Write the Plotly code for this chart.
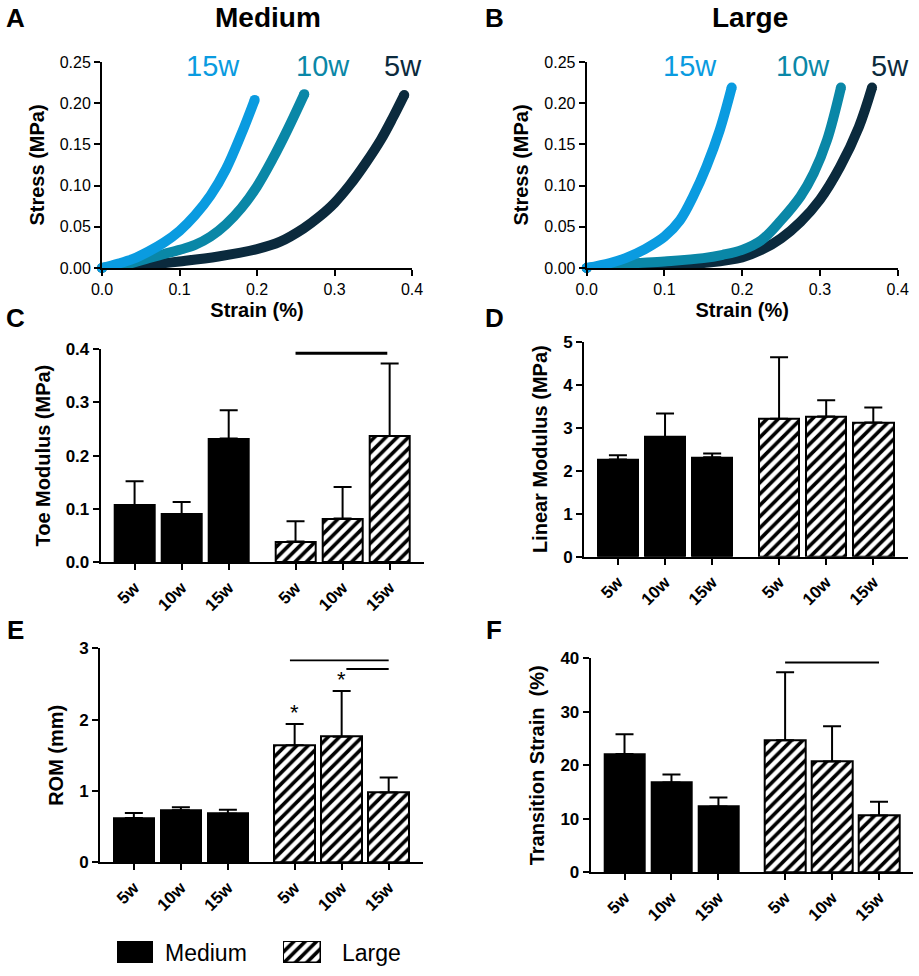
import plotly.graph_objects as go

# ---------------- data ----------------
# Panel A (Medium) stress-strain curves: strain, stress (MPa)
med_5w_strain = [0.0, 0.05, 0.10, 0.15, 0.20, 0.23, 0.26, 0.28, 0.30, 0.32, 0.34, 0.36, 0.375, 0.39]
med_5w_stress = [0.0, 0.003, 0.008, 0.014, 0.023, 0.032, 0.048, 0.062, 0.079, 0.101, 0.127, 0.156, 0.182, 0.21]
med_10w_strain = [0.0, 0.03, 0.06, 0.08, 0.10, 0.12, 0.14, 0.16, 0.18, 0.20, 0.22, 0.24, 0.261]
med_10w_stress = [0.0, 0.004, 0.012, 0.017, 0.022, 0.028, 0.038, 0.053, 0.073, 0.099, 0.132, 0.169, 0.211]
med_15w_strain = [0.0, 0.02, 0.04, 0.06, 0.08, 0.10, 0.12, 0.14, 0.16, 0.18, 0.197]
med_15w_stress = [0.0, 0.005, 0.011, 0.02, 0.031, 0.045, 0.064, 0.088, 0.12, 0.163, 0.204]

# Panel B (Large) stress-strain curves
lar_5w_strain = [0.0, 0.10, 0.15, 0.20, 0.225, 0.25, 0.275, 0.30, 0.326, 0.35, 0.367]
lar_5w_stress = [0.0, 0.002, 0.006, 0.013, 0.022, 0.036, 0.056, 0.083, 0.123, 0.171, 0.219]
lar_10w_strain = [0.0, 0.05, 0.10, 0.15, 0.175, 0.20, 0.225, 0.25, 0.275, 0.292, 0.309, 0.327]
lar_10w_stress = [0.0, 0.005, 0.008, 0.012, 0.016, 0.022, 0.034, 0.058, 0.087, 0.115, 0.155, 0.219]
lar_15w_strain = [0.0, 0.03, 0.05, 0.075, 0.10, 0.12, 0.137, 0.154, 0.171, 0.1865]
lar_15w_stress = [0.0, 0.006, 0.012, 0.023, 0.038, 0.058, 0.087, 0.123, 0.167, 0.219]

curve_labels = ["15w", "10w", "5w"]
curve_colors = {"5w": "#0b2a3d", "10w": "#0a87a7", "15w": "#0a9be0"}

# Bar panels
categories = ["5w", "10w", "15w"]
groups = ["Medium", "Large"]

toe_medium = [0.107, 0.090, 0.232]
toe_medium_sd = [0.045, 0.023, 0.053]
toe_large = [0.039, 0.082, 0.237]
toe_large_sd = [0.038, 0.059, 0.136]

lin_medium = [2.26, 2.78, 2.31]
lin_medium_sd = [0.10, 0.55, 0.09]
lin_large = [3.21, 3.26, 3.12]
lin_large_sd = [1.43, 0.38, 0.35]

rom_medium = [0.62, 0.73, 0.68]
rom_medium_sd = [0.07, 0.04, 0.055]
rom_large = [1.64, 1.76, 0.98]
rom_large_sd = [0.30, 0.64, 0.21]

ts_medium = [22.1, 16.8, 12.3]
ts_medium_sd = [3.7, 1.5, 1.7]
ts_large = [24.7, 20.7, 10.6]
ts_large_sd = [12.7, 6.6, 2.6]

# significance bars: (from category, to category, height) within Large group
sig_toe = [("5w", "15w", 0.392)]
sig_rom = [("5w", "15w", 2.83), ("10w", "15w", 2.71)]
sig_ts = [("5w", "15w", 39.2)]
rom_star_cats = ["5w", "10w"]

# ---------------- layout helpers ----------------
W, H = 919, 976
FONT = "Liberation Sans, Arial, sans-serif"


def dx(a, b):
    return [a / W, b / W]


def dy(top, bottom):
    return [1 - bottom / H, 1 - top / H]


GAP = 0.42
med_pos = [i for i in range(len(categories))]
lar_pos = [len(categories) + GAP + i for i in range(len(categories))]
all_pos = med_pos + lar_pos
lar_map = dict(zip(categories, lar_pos))

fig = go.Figure()

axis_common = dict(showline=True, linecolor="black", linewidth=2, ticks="outside",
                   ticklen=6, tickwidth=2, tickcolor="black", showgrid=False,
                   zeroline=False, automargin=False)

# ---- curves A and B ----
curve_sets = [
    ("x", "y", [("5w", med_5w_strain, med_5w_stress), ("10w", med_10w_strain, med_10w_stress),
                ("15w", med_15w_strain, med_15w_stress)]),
    ("x2", "y2", [("5w", lar_5w_strain, lar_5w_stress), ("10w", lar_10w_strain, lar_10w_stress),
                  ("15w", lar_15w_strain, lar_15w_stress)]),
]
for xa, ya, curves in curve_sets:
    for name, sx, sy in curves:
        c = curve_colors[name]
        fig.add_trace(go.Scatter(x=sx, y=sy, mode="lines", xaxis=xa, yaxis=ya,
                                 line=dict(color=c, width=10, shape="spline", smoothing=1.0),
                                 cliponaxis=False, showlegend=False, hoverinfo="skip"))
        fig.add_trace(go.Scatter(x=[sx[0], sx[-1]], y=[sy[0], sy[-1]], mode="markers",
                                 xaxis=xa, yaxis=ya, marker=dict(color=c, size=10),
                                 cliponaxis=False, showlegend=False, hoverinfo="skip"))

# ---- bars ----
hatch = dict(shape="/", fgcolor="black", bgcolor="white", fgopacity=1, size=8, solidity=0.45)
err_style = dict(type="data", symmetric=False, color="black", thickness=2, width=9)

bar_sets = [
    ("x3", "y3", toe_medium, toe_medium_sd, toe_large, toe_large_sd),
    ("x4", "y4", lin_medium, lin_medium_sd, lin_large, lin_large_sd),
    ("x5", "y5", rom_medium, rom_medium_sd, rom_large, rom_large_sd),
    ("x6", "y6", ts_medium, ts_medium_sd, ts_large, ts_large_sd),
]
for xa, ya, m, msd, l, lsd in bar_sets:
    fig.add_trace(go.Bar(x=med_pos, y=m, width=0.86, xaxis=xa, yaxis=ya,
                         marker=dict(color="black", line=dict(color="black", width=2)),
                         error_y=dict(array=msd, arrayminus=[0] * len(msd), **err_style),
                         showlegend=False, hoverinfo="skip"))
    fig.add_trace(go.Bar(x=lar_pos, y=l, width=0.86, xaxis=xa, yaxis=ya,
                         marker=dict(color="white", line=dict(color="black", width=2), pattern=hatch),
                         error_y=dict(array=lsd, arrayminus=[0] * len(lsd), **err_style),
                         showlegend=False, hoverinfo="skip"))

# significance lines
shapes = []
for xr, yr, sigs, lw, shifts in [("x3", "y3", sig_toe, 3, [(0, -0.05)]),
                                  ("x5", "y5", sig_rom, 1.8, [(-0.1, 0), (0.1, 0)]),
                                  ("x6", "y6", sig_ts, 2, [(0, 0)])]:
    for (a, b, h), (s0, s1) in zip(sigs, shifts):
        shapes.append(dict(type="line", xref=xr, yref=yr, x0=lar_map[a] + s0, x1=lar_map[b] + s1,
                           y0=h, y1=h, line=dict(color="black", width=lw)))

annotations = []
# asterisks on ROM
for cat in rom_star_cats:
    i = categories.index(cat)
    annotations.append(dict(xref="x5", yref="y5", x=lar_map[cat], y=rom_large[i] + rom_large_sd[i],
                            text="*", showarrow=False, yanchor="bottom", yshift=-3,
                            font=dict(family=FONT, size=22, color="black")))

# ---- legend swatches (mini axes) ----
fig.add_trace(go.Bar(x=[0], y=[1], width=1, xaxis="x7", yaxis="y7", cliponaxis=False,
                     marker=dict(color="black", line=dict(color="black", width=2)),
                     showlegend=False, hoverinfo="skip"))
fig.add_trace(go.Bar(x=[0], y=[1], width=1, xaxis="x8", yaxis="y8", cliponaxis=False,
                     marker=dict(color="white", line=dict(color="black", width=2.5), pattern=hatch),
                     showlegend=False, hoverinfo="skip"))
for gname, xpx in zip(groups, [163, 340]):
    annotations.append(dict(xref="paper", yref="paper", x=xpx / W, y=1 - 953 / H, text=gname,
                            showarrow=False, xanchor="left", yanchor="middle",
                            font=dict(family=FONT, size=23, color="black")))

# panel letters
for letter, (px_, py_) in zip("ABCDEF", [(15, 18), (494, 18), (15, 318), (494, 318), (15, 630), (494, 630)]):
    annotations.append(dict(xref="paper", yref="paper", x=px_ / W, y=1 - py_ / H, text=letter,
                            showarrow=False, xanchor="center", yanchor="middle",
                            font=dict(family=FONT, size=26, color="black", weight="bold")))
# panel titles
for t, px_ in zip(groups, [268, 750]):
    annotations.append(dict(xref="paper", yref="paper", x=px_ / W, y=1 - 18 / H, text=t,
                            showarrow=False, xanchor="center", yanchor="middle",
                            font=dict(family=FONT, size=28, color="black", weight="bold")))
# curve labels
label_pos = {
    "A": {"15w": 213, "10w": 323, "5w": 403},
    "B": {"15w": 690, "10w": 803, "5w": 890},
}
for pnl in ["A", "B"]:
    for lab in curve_labels:
        annotations.append(dict(xref="paper", yref="paper", x=label_pos[pnl][lab] / W, y=1 - 66 / H,
                                text=lab, showarrow=False, xanchor="center", yanchor="middle",
                                font=dict(family=FONT, size=29, color=curve_colors[lab])))

tickfont_curve = dict(family=FONT, size=16, color="black")
title_curve = dict(family=FONT, size=20, color="black", weight="bold")
tickfont_bar = dict(family=FONT, size=17, color="black", weight="bold")
title_bar = dict(family=FONT, size=20, color="black", weight="bold")

layout = dict(
    width=W, height=H, margin=dict(l=0, r=0, t=0, b=0, autoexpand=False),
    paper_bgcolor="white", plot_bgcolor="white", showlegend=False,
    font=dict(family=FONT, color="black"),
    shapes=shapes, annotations=annotations, bargap=0,
)

# A, B axes
for k, (xd, anchor_x, anchor_y) in enumerate([((102, 412), "y", "x"), ((586.7, 897.7), "y2", "x2")]):
    sx = "" if k == 0 else "2"
    layout["xaxis" + sx] = dict(domain=dx(*xd), anchor=anchor_x, range=[0, 0.4],
                                tickvals=[0, 0.1, 0.2, 0.3, 0.4], tickformat=".1f",
                                tickfont=tickfont_curve,
                                title=dict(text="Strain (%)", font=title_curve, standoff=6),
                                **axis_common)
    layout["yaxis" + sx] = dict(domain=dy(62, 268), anchor=anchor_y, range=[0, 0.25],
                                tickvals=[0, 0.05, 0.1, 0.15, 0.2, 0.25], tickformat=".2f",
                                tickfont=tickfont_curve,
                                title=dict(text="Stress (MPa)", font=title_curve, standoff=10),
                                **axis_common)

bar_axes = [
    ("3", (100.7, 424), (349, 562.3), [0, 0.4], [0, 0.1, 0.2, 0.3, 0.4], ".1f", "Toe Modulus (MPa)"),
    ("4", (584, 907.7), (341.7, 556.7), [0, 5], [0, 1, 2, 3, 4, 5], "d", "Linear Modulus (MPa)"),
    ("5", (100, 423), (648.3, 862.3), [0, 3], [0, 1, 2, 3], "d", "ROM (mm)"),
    ("6", (590.7, 913.3), (658.3, 872.3), [0, 40], [0, 10, 20, 30, 40], "d", "Transition Strain  (%)"),
]
for n, xd, yd, yr, tv, tf, tt in bar_axes:
    layout["xaxis" + n] = dict(domain=dx(*xd), anchor="y" + n, range=[-0.72, lar_pos[-1] + 0.73],
                               tickvals=all_pos, ticktext=categories * 2, tickangle=-45,
                               tickfont=tickfont_bar, ticklabelstandoff=1, **axis_common)
    layout["yaxis" + n] = dict(domain=dy(*yd), anchor="x" + n, range=yr, tickvals=tv, tickformat=tf,
                               tickfont=tickfont_bar, title=dict(text=tt, font=title_bar, standoff=10),
                               **axis_common)

# legend mini axes
for n, xd in [("7", (117, 153)), ("8", (283, 321))]:
    layout["xaxis" + n] = dict(domain=dx(*xd), anchor="y" + n, range=[-0.5, 0.5], visible=False)
    layout["yaxis" + n] = dict(domain=dy(941, 963), anchor="x" + n, range=[0, 1], visible=False)

fig.update_layout(**layout)
fig.write_html("out.html", config={"displayModeBar": False},
               post_script="document.body.style.margin='0';document.body.style.overflow='hidden';")
